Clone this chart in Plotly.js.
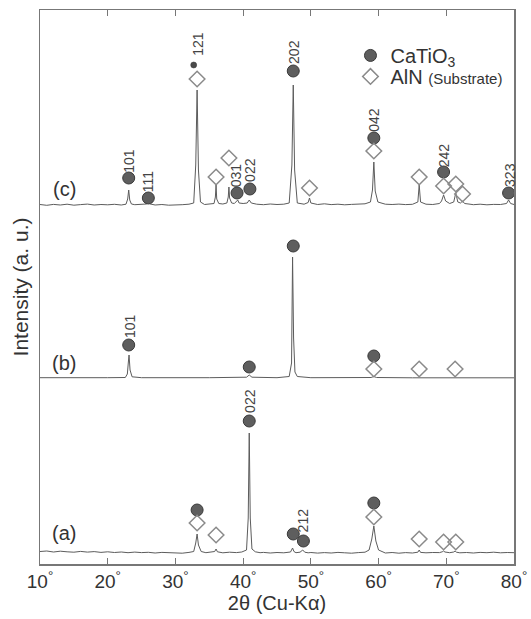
<!DOCTYPE html>
<html>
<head>
<meta charset="utf-8">
<script src="https://cdn.plot.ly/plotly-3.0.1.min.js"></script>
<style>html,body{margin:0;padding:0;background:#fff;}</style>
</head>
<body>
<div id="chart" style="width:531px;height:619px;"></div>
<script>
// ---- data (2θ in degrees, intensity in arbitrary units) ----
const cX = [10,11,12,13,14,15,16,17,18,19,20,21,22,22.7,22.95,23.1,23.25,23.5,24,25,25.7,26.0,26.3,27,28,29,30,31,32,32.7,33.0,33.2,33.4,33.7,34.3,35,35.7,35.9,36.0,36.1,36.4,37,37.6,37.8,37.9,38.0,38.3,38.7,39.0,39.2,39.4,40,40.6,40.9,41.2,42,43,44,45,46,46.8,47.2,47.4,47.6,48,49,49.6,49.8,50.0,50.5,51,52,53,54,55,56,57,58,58.8,59.1,59.3,59.5,59.9,61,62,63,64,65,65.8,66.0,66.2,67,68,69,69.3,69.6,69.9,70.5,71.1,71.4,71.7,72.1,72.4,72.7,73.5,74,75,76,77,78,78.9,79.2,79.5,80];
const cY = [0.5,-0.3,0.6,0,0.8,-0.2,0.4,0.9,0,0.5,0.2,0.7,0,0.8,6,15,5,1,0.3,0.6,1,3,1,0,0.5,-0.2,0.4,0.3,0.8,2,40,115,35,3,0.5,0.8,1.5,8,20,6,1.5,1,2,8,18,7,2,1.5,3.5,5,2,1.5,2,5,2,0.8,0.3,1,0.5,0.8,2,40,120,35,2,0.8,2.5,7,2,1,0.5,1.2,0.4,0.8,0.2,0.6,0.9,1.2,3,15,43,14,3,0.8,0.5,0.9,0.4,0.7,3,20,3,0.8,0.5,1.5,4,10,4,1.5,3,12,3,2,4,1.5,0.8,0.3,0.8,0.2,0.6,0.5,1.5,5,1.5,0.5];

const bX = [10,15,20,22.6,22.9,23.05,23.15,23.3,23.6,25,30,35,40.5,40.9,41.3,45,46.8,47.15,47.3,47.45,47.65,48,50,55,58.9,59.3,59.7,65,70,75,80];
const bY = [0.3,0,0.3,0.5,4,16,23,8,1.2,0.3,0,0.3,0.8,3,0.8,0.3,1.5,15,121,40,6,1.5,0.3,0,0.5,1.5,0.5,0.2,0.3,0.2,0.2];

const aX = [10,11,12,13,14,15,16,17,18,19,20,21,22,23,24,25,26,27,28,29,30,31,32,32.7,33.0,33.2,33.4,33.8,34.5,35.3,35.8,36.0,36.2,37,38,39,39.8,40.5,40.75,40.9,41.05,41.3,41.8,42.5,43,44,45,46,47.0,47.3,47.5,47.8,48.4,48.8,49.1,49.6,50,51,52,53,54,55,56,57,58,58.6,59.0,59.3,59.6,60.0,60.6,61,62,63,64,65,65.8,66.0,66.2,67,68,69,69.4,69.6,69.8,70.5,71.1,71.3,71.5,72,73,74,75,76,77,78,79,80];
const aY = [1.5,2,1,1.8,1.2,0.8,1.6,0.9,1.4,0.6,1.2,0.5,1,0.3,0.9,0.4,0.7,0,0.6,0.2,0.5,-0.2,0.6,1.5,10,19,8,1.5,0.3,0.8,1.5,4,1.2,0.2,0.8,0.4,1,3,35,120,35,4,1.2,0.3,0.6,0,0.5,0.2,1,5,1.5,0.3,0.8,3,0.8,0.2,0.5,-0.1,0.4,0,0.6,0.2,-0.2,0.4,0.8,3,14,27,12,3,0.8,0,0.5,-0.2,0.4,0,0.8,3,0.6,0.2,0.5,0.4,1.2,2,1,0.3,1,2,0.8,0.2,0.5,0,0.6,0.3,0.8,0.2,0.5,0.3];

// vertical offsets of the stacked patterns (a, b, c)
const offsets = {a: 11, b: 186, c: 359};

// CaTiO3 reflection markers
const catX = [23.1,26.0,39.1,41.0,47.4,59.3,69.6,79.2, 23.1,40.9,47.4,59.3, 33.2,40.9,47.4,48.9,59.3];
const catY = [386,366,371,375,493,426,392,371, 219,197,318,208, 54,143,30,23,61];
const catSmallX = [32.7];
const catSmallY = [499];

// AlN substrate markers
const alnX = [33.2,36.0,37.9,49.8,59.3,66.0,69.6,71.4,72.4, 59.3,66.0,71.3, 33.2,36.0,59.3,66.0,69.6,71.4];
const alnY = [485,387,406,376,413,387,378,380,370, 195,195,195, 41,29,47,25,22,22];

// Miller index labels
const hklText = ["101","111","121","031","022","202","042","242","323","101","022","212"];
const hklX = [23.1,26.0,33.3,39.0,41.0,47.5,59.3,69.7,79.4,23.3,41.0,48.9];
const hklY = [403,382,520,389,394,512,444,409,389,238,163,44];

// pattern labels
const patText = ["(c)","(b)","(a)"];
const patX = [13.6,13.6,13.6];
const patY = [375,201,31];

// x ticks
const tickVals = [10,20,30,40,50,60,70,80];
const tickText = tickVals.map(v => v + "<sup>°</sup>");

const FONT = "Liberation Sans, Arial, Helvetica, sans-serif";
const lineCol = "#5c5c5c";

function pattern(xs, ys, off) {
  return {x: xs, y: ys.map(v => v + off), mode: "lines", type: "scatter",
    line: {color: lineCol, width: 1}, showlegend: false, hoverinfo: "skip"};
}

const traces = [
  pattern(cX, cY, offsets.c),
  pattern(bX, bY, offsets.b),
  pattern(aX, aY, offsets.a),
  {x: catX, y: catY, mode: "markers", type: "scatter", name: "CaTiO<sub>3</sub>",
   legend: "legend",
   marker: {symbol: "circle", size: 12, color: "#5e5e5e", line: {color: "#3a3a3a", width: 1}}},
  {x: catSmallX, y: catSmallY, mode: "markers", type: "scatter", showlegend: false,
   marker: {symbol: "circle", size: 6, color: "#4a4a4a", line: {color: "#333", width: 0.5}}},
  {x: alnX, y: alnY, mode: "markers", type: "scatter",
   name: "AlN <span style='font-size:15px'>(Substrate)</span>",
   legend: "legend2",
   marker: {symbol: "diamond-open", size: 12, color: "#8a8a8a", line: {width: 1.5}}}
];

const annotations = [];
hklText.forEach((t, i) => annotations.push({
  x: hklX[i], y: hklY[i], xref: "x", yref: "y", text: t, showarrow: false,
  textangle: -90, font: {family: FONT, size: 14, color: "#444"}
}));
patText.forEach((t, i) => annotations.push({
  x: patX[i], y: patY[i], xref: "x", yref: "y", text: t, showarrow: false,
  font: {family: FONT, size: 20, color: "#333"}
}));

const legendBase = {xanchor: "left", yanchor: "middle",
  font: {family: FONT, size: 20, color: "#333"}, bgcolor: "rgba(0,0,0,0)",
  itemwidth: 30, borderwidth: 0};

const layout = {
  width: 531, height: 619,
  margin: {l: 40, r: 17, t: 10, b: 55},
  paper_bgcolor: "#fff", plot_bgcolor: "#fff",
  font: {family: FONT, color: "#333"},
  xaxis: {
    range: [10, 80], tickvals: tickVals, ticktext: tickText,
    ticks: "inside", ticklen: 6, tickcolor: "#777", tickwidth: 1.2,
    showline: true, linecolor: "#777", linewidth: 1.5, mirror: "ticks",
    showgrid: false, zeroline: false,
    tickfont: {family: FONT, size: 19, color: "#333"},
    title: {text: "2θ (Cu-Kα)", font: {family: FONT, size: 20, color: "#333"}, standoff: 2}
  },
  yaxis: {
    range: [0, 554], showticklabels: false, ticks: "",
    showline: true, linecolor: "#777", linewidth: 1.5, mirror: true,
    showgrid: false, zeroline: false,
    title: {text: "Intensity (a. u.)", font: {family: FONT, size: 21, color: "#333"}, standoff: 4}
  },
  legend: Object.assign({x: 0.655, y: 0.918}, legendBase),
  legend2: Object.assign({x: 0.655, y: 0.88}, legendBase),
  annotations: annotations,
  showlegend: true
};

Plotly.newPlot("chart", traces, layout, {staticPlot: true, displayModeBar: false});
</script>
</body>
</html>
